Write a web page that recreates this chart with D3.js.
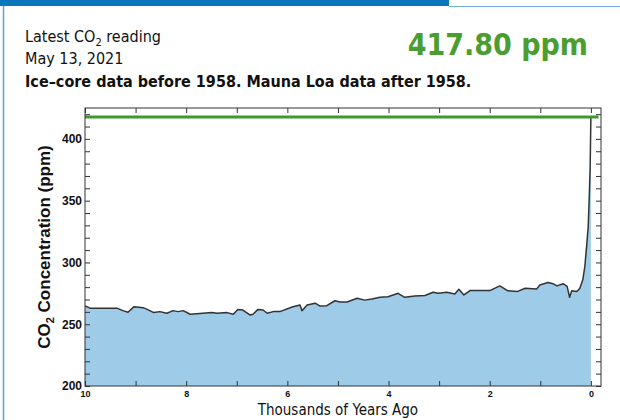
<!DOCTYPE html>
<html>
<head>
<meta charset="utf-8">
<script src="https://cdn.jsdelivr.net/npm/d3@7"></script>
<style>
  body { margin: 0; background: #fff; }
  .narrow { font-family: 'Liberation Sans Narrow', 'DejaVu Sans Condensed', sans-serif; }
  .axis text { font-family: 'Liberation Sans', Arial, sans-serif; font-weight: bold; fill: #111; }
  .axis line { stroke: #333; }
</style>
</head>
<body>
<div id="chart"></div>
<script>
// thousands of years ago
var ages = [10.0, 9.90, 9.37, 9.25, 9.15, 9.03, 8.85, 8.77, 8.64, 8.52, 8.38, 8.26, 8.16, 8.06,
  7.92, 7.67, 7.49, 7.39, 7.19, 7.07, 6.98, 6.88, 6.74, 6.68, 6.58, 6.48, 6.40, 6.28, 6.15,
  5.89, 5.75, 5.71, 5.61, 5.45, 5.36, 5.22, 5.06, 4.96, 4.82, 4.62, 4.47, 4.33, 4.17, 4.01,
  3.81, 3.68, 3.48, 3.28, 3.12, 3.02, 2.85, 2.69, 2.61, 2.51, 2.39, 2.19, 2.00, 1.80, 1.64,
  1.46, 1.30, 1.07, 1.01, 0.85, 0.75, 0.67, 0.55, 0.47, 0.42, 0.38, 0.28, 0.22, 0.16, 0.12,
  0.085, 0.053, 0.034, 0.014, 0.0]

// CO2 ppm
var ppm = [264.8, 263.0, 263.0, 261.0, 259.7, 264.2, 263.4, 262.0, 259.4, 260.2, 258.9, 261.0, 260.2, 261.0,
  258.1, 258.9, 259.4, 258.9, 259.4, 258.1, 262.0, 261.5, 257.5, 258.1, 262.0, 261.5, 258.9, 260.2, 260.2,
  264.2, 265.5, 261.0, 265.6, 267.0, 264.8, 265.0, 269.0, 268.0, 268.0, 271.0, 269.5, 270.5, 271.8, 272.3,
  275.0, 271.8, 272.9, 273.2, 275.9, 275.0, 275.9, 274.5, 278.3, 273.7, 277.2, 277.2, 277.2, 281.0, 277.0,
  276.4, 279.1, 278.6, 281.8, 283.7, 282.8, 281.0, 282.8, 280.6, 271.8, 277.0, 276.4, 279.0, 285.9, 296.6,
  312.8, 329.0, 350.6, 377.6, 417.8]

var latest = 417.80
var yTicks = d3.range(200, 421, 10)
var xTicks = d3.range(0, 11, 1)

var data = ages.map((a, i) => ({ age: a, value: ppm[i] }))

var svg = d3.select('#chart')
  .append('svg')
  .attr('width', 620)
  .attr('height', 420)

// card frame
svg.append('rect').attr('x', 0).attr('y', 0).attr('width', 449).attr('height', 6).attr('fill', '#0a76bc')
svg.append('line').attr('x1', 449).attr('x2', 620).attr('y1', 6.5).attr('y2', 6.5)
  .attr('stroke', '#6fb1e0').attr('stroke-width', 1)
svg.append('line').attr('x1', 3.5).attr('x2', 3.5).attr('y1', 6).attr('y2', 420)
  .attr('stroke', '#5aa2d8').attr('stroke-width', 1.5)

// header
var t1 = svg.append('text').attr('class', 'narrow').attr('x', 25).attr('y', 42)
  .attr('font-size', 16).attr('fill', '#111')
t1.append('tspan').text('Latest CO')
t1.append('tspan').text('2').attr('font-size', 11).attr('dy', 4)
t1.append('tspan').text(' reading').attr('dy', -4)

svg.append('text').attr('class', 'narrow').attr('x', 25).attr('y', 64)
  .attr('font-size', 16).attr('fill', '#111').text('May 13, 2021')

svg.append('text').attr('class', 'narrow').attr('x', 25).attr('y', 87)
  .attr('font-size', 16).attr('font-weight', 'bold').attr('fill', '#111')
  .text('Ice\u2013core data before 1958. Mauna Loa data after 1958.')

svg.append('text').attr('class', 'narrow').attr('x', 588).attr('y', 55)
  .attr('text-anchor', 'end').attr('font-size', 30).attr('font-weight', 'bold').attr('fill', '#4a9e31')
  .text(latest.toFixed(2) + ' ppm')

// plot box
var plotLeft = 85, plotRight = 601, plotTop = 108, plotBottom = 386

var x = d3.scaleLinear().domain([10, -0.2]).range([plotLeft, plotRight])
var y = d3.scaleLinear().domain([200, 425]).range([plotBottom, plotTop])

var area = d3.area()
  .x(d => x(d.age))
  .y0(y(200))
  .y1(d => y(d.value))

var line = d3.line()
  .x(d => x(d.age))
  .y(d => y(d.value))

svg.append('path').datum(data).attr('d', area).attr('fill', '#9ecbe8')
svg.append('path').datum(data).attr('d', line)
  .attr('fill', 'none').attr('stroke', '#333').attr('stroke-width', 1.5)
  .attr('stroke-linejoin', 'round')

svg.append('line')
  .attr('x1', plotLeft).attr('x2', x(-0.15))
  .attr('y1', y(latest)).attr('y2', y(latest))
  .attr('stroke', '#3f9a2c').attr('stroke-width', 3)

// axes, ticks pointing inward
svg.append('g').attr('class', 'axis')
  .attr('transform', `translate(${plotLeft},0)`)
  .call(d3.axisLeft(y).tickValues(yTicks).tickSize(-5).tickPadding(3)
    .tickFormat(d => (d % 50 === 0 ? d : '')))
  .call(g => g.selectAll('text').attr('font-size', 12))

svg.append('g').attr('class', 'axis')
  .attr('transform', `translate(${plotRight},0)`)
  .call(d3.axisRight(y).tickValues(yTicks).tickSize(-5).tickFormat(''))

svg.append('g').attr('class', 'axis')
  .attr('transform', `translate(0,${plotBottom})`)
  .call(d3.axisBottom(x).tickValues(xTicks).tickSize(-5).tickPadding(5)
    .tickFormat(d => (d % 2 === 0 ? d : '')))
  .call(g => g.selectAll('text').attr('font-size', 9))

svg.append('g').attr('class', 'axis')
  .attr('transform', `translate(0,${plotTop})`)
  .call(d3.axisTop(x).tickValues(xTicks).tickSize(-5).tickFormat(''))

svg.selectAll('.axis .domain').remove()

svg.append('rect')
  .attr('x', plotLeft).attr('y', plotTop)
  .attr('width', plotRight - plotLeft).attr('height', plotBottom - plotTop)
  .attr('fill', 'none').attr('stroke', '#333').attr('stroke-width', 1)

// axis titles
var yl = svg.append('text')
  .attr('transform', `translate(50,${(plotTop + plotBottom) / 2}) rotate(-90)`)
  .attr('text-anchor', 'middle')
  .attr('font-family', "'Liberation Sans', Arial, sans-serif")
  .attr('font-weight', 'bold').attr('font-size', 17).attr('fill', '#111')
yl.append('tspan').text('CO')
yl.append('tspan').text('2').attr('font-size', 11).attr('dy', 4)
yl.append('tspan').text(' Concentration (ppm)').attr('dy', -4)

svg.append('text').attr('class', 'narrow')
  .attr('x', (x(10) + x(0)) / 2).attr('y', 415)
  .attr('text-anchor', 'middle').attr('font-size', 15).attr('fill', '#111')
  .text('Thousands of Years Ago')
</script>
</body>
</html>
